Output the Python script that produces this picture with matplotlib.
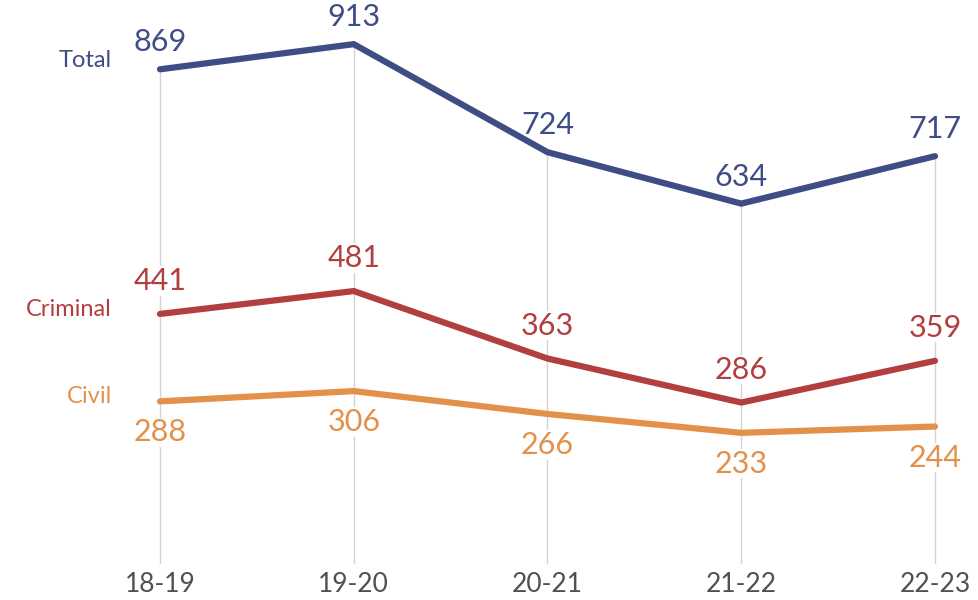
import matplotlib
matplotlib.use("Agg")
import matplotlib.pyplot as plt

years = ["18-19", "19-20", "20-21", "21-22", "22-23"]
total = [869, 913, 724, 634, 717]
criminal = [441, 481, 363, 286, 359]
civil = [288, 306, 266, 233, 244]

# name, values, colour, label offset in pixels (+ above / - below)
series = [
    ("Total", total, "#3F4D85", 27),
    ("Criminal", criminal, "#B23F3F", 33),
    ("Civil", civil, "#E3914A", -31),
]

plt.rcParams["font.family"] = ["Lato", "DejaVu Sans"]

fig = plt.figure(figsize=(9.79, 6.0), dpi=100)
# value 0 sits near y=566 px, first/last category at x=160 / 935 px
ax = fig.add_axes([160 / 979, 34 / 600, 775 / 979, 543 / 600])
ax.set_xlim(0, 4)
ax.set_ylim(0, 950)
ax.axis("off")

x = list(range(len(years)))

# vertical guide lines from the baseline up to the total line
for xi, t in zip(x, total):
    ax.plot([xi, xi], [5, t], color="#D3D3D3", lw=1.0, zorder=1,
            clip_on=False)

for name, vals, color, dy in series:
    ax.plot(x, vals, color=color, lw=4.5, solid_capstyle="round",
            solid_joinstyle="miter", zorder=3, clip_on=False)
    for xi, v in zip(x, vals):
        # white box hides the guide line behind the number, stays under lines
        ax.annotate(str(v), (xi, v), xytext=(0, dy),
                    textcoords="offset pixels", ha="center", va="center",
                    fontsize=22, color=color, zorder=2,
                    bbox=dict(facecolor="white", edgecolor="none",
                              pad=0.5))

# series names to the left of the first point
name_y = {"Total": 869 + 16, "Criminal": 441 + 8, "Civil": 288 + 8}
for name, vals, color, dy in series:
    ax.annotate(name, (0, name_y[name]), xytext=(-48, 0),
                textcoords="offset pixels", ha="right", va="center",
                fontsize=17, color=color)

for xi, lab in zip(x, years):
    ax.annotate(lab, (xi, 0), xytext=(0, -18), textcoords="offset pixels",
                ha="center", va="center", fontsize=19, color="#505050")

fig.savefig("out.png", dpi=100)
